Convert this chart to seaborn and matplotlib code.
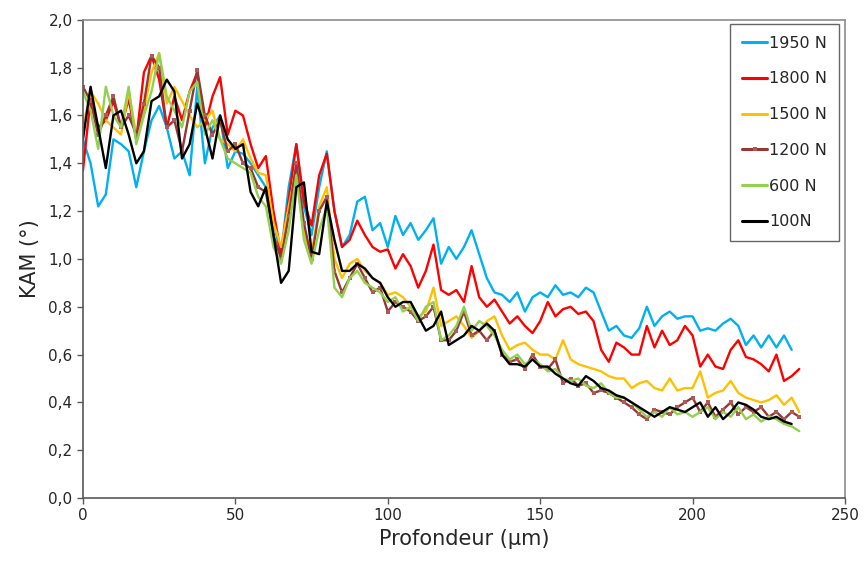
import numpy as np
import pandas as pd
import matplotlib.pyplot as plt
import seaborn as sns
from matplotlib.ticker import FuncFormatter

# KAM profiles vs depth, every 2.5 um
step = 2.5

kam_1950 = [1.50, 1.40, 1.22, 1.27, 1.50, 1.48, 1.45, 1.30, 1.45, 1.58,
            1.64, 1.55, 1.42, 1.45, 1.35, 1.72, 1.40, 1.55, 1.60, 1.38,
            1.45, 1.44, 1.40, 1.35, 1.30, 1.15, 1.02, 1.30, 1.48, 1.22,
            1.10, 1.30, 1.45, 1.20, 1.05, 1.10, 1.24, 1.26, 1.12, 1.15,
            1.05, 1.18, 1.10, 1.15, 1.08, 1.12, 1.17, 0.98, 1.05, 1.00,
            1.05, 1.12, 1.02, 0.92, 0.86, 0.85, 0.82, 0.86, 0.78, 0.84,
            0.86, 0.84, 0.89, 0.85, 0.86, 0.84, 0.88, 0.86, 0.78, 0.70,
            0.72, 0.68, 0.67, 0.71, 0.80, 0.72, 0.76, 0.78, 0.75, 0.76,
            0.76, 0.70, 0.71, 0.70, 0.73, 0.75, 0.72, 0.64, 0.68, 0.63,
            0.68, 0.63, 0.68, 0.62]

kam_1800 = [1.37, 1.67, 1.55, 1.58, 1.66, 1.55, 1.67, 1.50, 1.78, 1.85,
            1.75, 1.55, 1.68, 1.58, 1.70, 1.78, 1.55, 1.68, 1.76, 1.52,
            1.62, 1.60, 1.48, 1.38, 1.43, 1.20, 1.02, 1.25, 1.48, 1.24,
            1.14, 1.35, 1.44, 1.20, 1.05, 1.08, 1.16, 1.10, 1.05, 1.03,
            1.04, 0.96, 1.02, 0.97, 0.88, 0.95, 1.06, 0.87, 0.85, 0.87,
            0.82, 0.97, 0.84, 0.80, 0.83, 0.78, 0.73, 0.76, 0.72, 0.69,
            0.74, 0.82, 0.76, 0.79, 0.80, 0.77, 0.78, 0.74, 0.62, 0.57,
            0.65, 0.63, 0.60, 0.60, 0.72, 0.63, 0.70, 0.64, 0.66, 0.72,
            0.68, 0.55, 0.60, 0.55, 0.54, 0.62, 0.66, 0.59, 0.58, 0.56,
            0.53, 0.60, 0.49, 0.51, 0.54]

kam_1500 = [1.55, 1.70, 1.65, 1.58, 1.55, 1.52, 1.70, 1.52, 1.62, 1.78,
            1.86, 1.65, 1.72, 1.66, 1.60, 1.55, 1.58, 1.62, 1.50, 1.48,
            1.45, 1.50, 1.42, 1.36, 1.35, 1.15, 1.05, 1.22, 1.38, 1.10,
            1.02, 1.22, 1.30, 1.00, 0.92, 0.98, 1.00, 0.95, 0.92, 0.90,
            0.85, 0.86, 0.84, 0.80, 0.76, 0.78, 0.88, 0.72, 0.74, 0.76,
            0.72, 0.67, 0.70, 0.74, 0.76, 0.68, 0.62, 0.64, 0.65, 0.62,
            0.60, 0.60, 0.58, 0.66, 0.58, 0.56, 0.55, 0.54, 0.53, 0.51,
            0.50, 0.50, 0.46, 0.48, 0.49, 0.46, 0.45, 0.50, 0.45, 0.46,
            0.46, 0.53, 0.42, 0.44, 0.45, 0.49, 0.44, 0.42, 0.41, 0.40,
            0.41, 0.43, 0.39, 0.42, 0.36]

kam_1200 = [1.72, 1.66, 1.52, 1.60, 1.68, 1.55, 1.60, 1.52, 1.65, 1.85,
            1.80, 1.55, 1.58, 1.45, 1.62, 1.79, 1.60, 1.52, 1.58, 1.45,
            1.48, 1.40, 1.38, 1.30, 1.28, 1.10, 1.00, 1.18, 1.40, 1.15,
            1.00, 1.20, 1.26, 0.95, 0.86, 0.92, 0.98, 0.92, 0.86, 0.88,
            0.78, 0.82, 0.80, 0.78, 0.74, 0.76, 0.80, 0.66, 0.66, 0.70,
            0.78, 0.68, 0.70, 0.66, 0.70, 0.60, 0.57, 0.58, 0.54, 0.60,
            0.55, 0.54, 0.58, 0.48, 0.50, 0.47, 0.48, 0.44, 0.45, 0.44,
            0.42, 0.40, 0.38, 0.35, 0.33, 0.37, 0.36, 0.35, 0.38, 0.40,
            0.42, 0.36, 0.40, 0.34, 0.37, 0.40, 0.35, 0.38, 0.36, 0.38,
            0.34, 0.36, 0.33, 0.36, 0.34]

kam_600 = [1.70, 1.62, 1.46, 1.72, 1.60, 1.55, 1.72, 1.48, 1.60, 1.70,
           1.86, 1.68, 1.62, 1.55, 1.70, 1.74, 1.52, 1.58, 1.50, 1.42,
           1.40, 1.38, 1.36, 1.26, 1.22, 1.05, 0.98, 1.12, 1.35, 1.08,
           0.98, 1.12, 1.22, 0.88, 0.84, 0.92, 0.95, 0.90, 0.88, 0.86,
           0.82, 0.84, 0.78, 0.80, 0.74, 0.80, 0.82, 0.66, 0.68, 0.72,
           0.80, 0.70, 0.74, 0.72, 0.68, 0.62, 0.58, 0.60, 0.56, 0.58,
           0.56, 0.53, 0.54, 0.50, 0.49, 0.50, 0.47, 0.46, 0.48, 0.44,
           0.42, 0.42, 0.40, 0.37, 0.34, 0.36, 0.34, 0.38, 0.35, 0.36,
           0.34, 0.36, 0.38, 0.33, 0.36, 0.34, 0.38, 0.33, 0.35, 0.32,
           0.34, 0.33, 0.31, 0.30, 0.28]

kam_100 = [1.50, 1.72, 1.55, 1.38, 1.60, 1.62, 1.52, 1.40, 1.45, 1.66,
           1.68, 1.75, 1.70, 1.42, 1.48, 1.65, 1.55, 1.42, 1.60, 1.50,
           1.46, 1.48, 1.28, 1.22, 1.30, 1.10, 0.90, 0.95, 1.30, 1.32,
           1.03, 1.02, 1.24, 1.08, 0.95, 0.95, 0.98, 0.96, 0.92, 0.90,
           0.84, 0.80, 0.82, 0.82, 0.76, 0.70, 0.72, 0.78, 0.64, 0.66,
           0.68, 0.72, 0.70, 0.73, 0.70, 0.60, 0.56, 0.56, 0.55, 0.58,
           0.55, 0.55, 0.52, 0.50, 0.48, 0.47, 0.51, 0.49, 0.46, 0.45,
           0.43, 0.42, 0.40, 0.38, 0.36, 0.34, 0.36, 0.38, 0.37, 0.36,
           0.38, 0.40, 0.34, 0.38, 0.33, 0.36, 0.40, 0.39, 0.37, 0.34,
           0.33, 0.34, 0.32, 0.31]

series = {
    '1950 N': kam_1950,
    '1800 N': kam_1800,
    '1500 N': kam_1500,
    '1200 N': kam_1200,
    '600 N': kam_600,
    '100N': kam_100,
}
colors = {
    '1950 N': '#00B0F0',
    '1800 N': '#FF0000',
    '1500 N': '#FFC000',
    '1200 N': '#953735',
    '600 N': '#92D050',
    '100N': '#000000',
}

frames = []
for name, vals in series.items():
    frames.append(pd.DataFrame({'depth': np.arange(len(vals)) * step,
                                'kam': vals, 'load': name}))
df = pd.concat(frames, ignore_index=True)

sns.set_style('white')
plt.rcParams['font.family'] = ['DejaVu Sans']

fig = plt.figure(figsize=(8.64, 5.66), dpi=100)
ax = fig.add_axes([0.096, 0.12, 0.882, 0.845])

for name in series:
    sub = df[df['load'] == name]
    kw = {}
    if name == '1200 N':
        kw = dict(marker='s', markersize=2.5, markerfacecolor='#B05A58',
                  markeredgewidth=0)
    sns.lineplot(data=sub, x='depth', y='kam', color=colors[name],
                 linewidth=1.7, label=name, ax=ax, **kw)

ax.set_xlim(0, 250)
ax.set_ylim(0, 2.0)
ax.set_xticks(np.arange(0, 251, 50))
ax.set_yticks(np.arange(0, 2.01, 0.2))
ax.yaxis.set_major_formatter(FuncFormatter(lambda v, p: f'{v:.1f}'.replace('.', ',')))
ax.tick_params(axis='both', labelsize=11, direction='out', length=4,
               width=1, color='#595959', bottom=True, left=True)

for side in ['left', 'bottom']:
    ax.spines[side].set_color('#595959')
    ax.spines[side].set_linewidth(1.2)
for side in ['top', 'right']:
    ax.spines[side].set_color('#8c8c8c')
    ax.spines[side].set_linewidth(1.2)

ax.set_xlabel('Profondeur (µm)', fontsize=15, labelpad=4)
ax.set_ylabel('KAM (°)', fontsize=15, labelpad=6)

leg = ax.legend(loc='upper right', bbox_to_anchor=(0.992, 0.992), fontsize=11.5,
                frameon=True, fancybox=False, edgecolor='#404040',
                handlelength=1.6, handletextpad=0.1, labelspacing=1.3,
                borderpad=0.75, borderaxespad=0)
leg.get_frame().set_linewidth(1.0)
for h in leg.get_lines():
    h.set_linewidth(2.2)

fig.savefig('out.png', dpi=100)
